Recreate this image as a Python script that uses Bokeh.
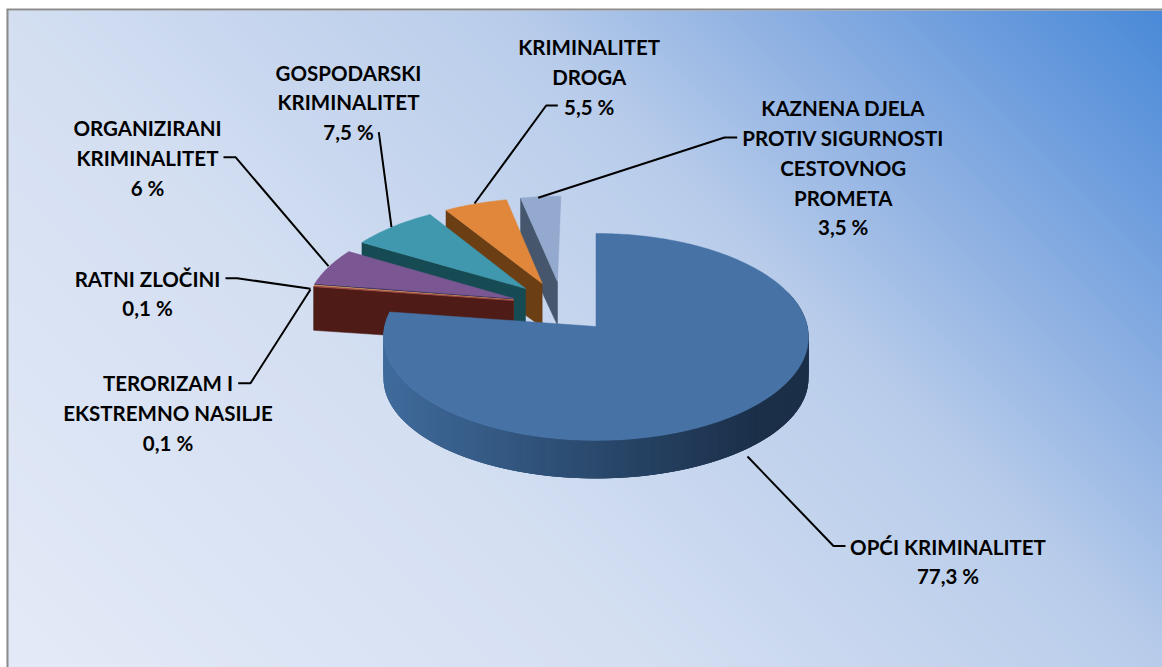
import numpy as np
from bokeh.plotting import figure
from bokeh.embed import file_html
from bokeh.resources import INLINE
from bokeh.core.properties import value

# ---- data
categories = ["OPĆI KRIMINALITET", "TERORIZAM I EKSTREMNO NASILJE", "RATNI ZLOČINI",
              "ORGANIZIRANI KRIMINALITET", "GOSPODARSKI KRIMINALITET",
              "KRIMINALITET DROGA", "KAZNENA DJELA PROTIV SIGURNOSTI CESTOVNOG PROMETA"]
shares = [77.3, 0.1, 0.1, 6.0, 7.5, 5.5, 3.5]
top_colors = ["#4672a6", "#a8504c", "#dca468", "#7a5793", "#3f98ae", "#e0873c", "#93a9ce"]
wall_colors = ["#2c4a6e", "#4e1b16", "#7a5a20", "#3a2858", "#174b54", "#6b3e14", "#46566c"]
slice_tips = [(595.5, 326), (513, 300), (513, 299.5), (513, 298), (525, 288), (541.7, 283), (557, 281)]

label_lines = [["OPĆI KRIMINALITET", "77,3 %"],
               ["TERORIZAM I", "EKSTREMNO NASILJE", "0,1 %"],
               ["RATNI ZLOČINI", "0,1 %"],
               ["ORGANIZIRANI", "KRIMINALITET", "6 %"],
               ["GOSPODARSKI", "KRIMINALITET", "7,5 %"],
               ["KRIMINALITET", "DROGA", "5,5 %"],
               ["KAZNENA DJELA", "PROTIV SIGURNOSTI", "CESTOVNOG", "PROMETA", "3,5 %"]]
label_centers = [947.5, 167.5, 147, 147, 348, 588.7, 842.7]
label_first_baselines = [546, 382.7, 278, 127.7, 72, 46.7, 107.7]
leaders = [[(747, 456), (833, 545.5), (845, 545.5)],
           [(237.7, 382.7), (250, 382.7), (310, 289)],
           [(225, 277.7), (236.7, 277.7), (310, 288.3)],
           [(223, 156.7), (235, 156.7), (328, 265.7)],
           [(378.3, 131.7), (391, 226.7)],
           [(557.3, 105), (545.7, 105), (474, 203)],
           [(736.7, 137), (724, 137), (537.7, 197.3)]]

# ---- layout of the projected pie
CX, CY, RX, RY, K = 595.5, 326.0, 211.4, 102.4, 0.101
X0, Y0 = 0, 0
W, H = 1162, 667
FX, FY = 6, 10


def proj(u, v):
    d = 1 - K * v
    return CX + RX * u / d, CY + RY * v / d


def unproj(x, y):
    t = (y - CY) / RY
    v = t / (1 + K * t)
    return (x - CX) / RX * (1 - K * v), v


def depth(v):
    return 42 - 4 * v


p = figure(width=W, height=H, x_range=(X0, X0 + W), y_range=(Y0 + H, Y0),
           output_backend="svg", toolbar_location=None, min_border=0,
           background_fill_color="white", outline_line_color=None)
p.axis.visible = False
p.grid.visible = False

# ---- gradient background
stops_t = [0.0, 0.36, 0.635, 0.75, 0.88, 1.0]
stops_c = [(228, 235, 248), (212, 223, 242), (185, 205, 235), (150, 182, 228), (110, 158, 222), (72, 137, 216)]
yy, xx = np.mgrid[FY:667, FX:1162]
t = (xx + (667 - yy)) / (1162 + 667)
img = np.zeros(t.shape, dtype=np.uint32)
view = img.view(dtype=np.uint8).reshape((*t.shape, 4))
for c in range(3):
    view[..., c] = np.interp(t, stops_t, [s[c] for s in stops_c])
view[..., 3] = 255
p.image_rgba(image=[img], x=FX, y=FY, dw=1162 - FX, dh=667 - FY)

# ---- frame
p.line([FX + 1, FX + 1], [667, FY - 1], line_color="#8c8c8c", line_width=2)
p.line([FX, 1162], [FY - 1, FY - 1], line_color="#8c8c8c", line_width=2)

# ---- slices, far ones first
cum = np.cumsum([0] + shares)
start = cum[:-1] / 100 * 2 * np.pi
end = cum[1:] / 100 * 2 * np.pi


def ring(a0, a1, ou, ov, n=120):
    a = np.linspace(a0, a1, n)
    return ou + np.sin(a), ov - np.cos(a)


for i in [6, 5, 4, 3, 2, 1]:
    ou, ov = unproj(*slice_tips[i])
    u, v = ring(start[i], end[i], ou, ov, 30)
    # radial wall at the slice's leading edge
    xa, ya = proj(ou, ov)
    xb, yb = proj(u[0], v[0])
    p.patch([xa, xb, xb, xa], [ya, yb, yb + depth(v[0]), ya + depth(ov)],
            fill_color=wall_colors[i], line_color=wall_colors[i], line_width=0.5)
    xs, ys = proj(u, v)
    p.patch([xa, *xs], [ya, *ys], fill_color=top_colors[i], line_color=top_colors[i], line_width=0.5)

# main slice
ou, ov = unproj(*slice_tips[0])
a = np.linspace(np.radians(70), end[0], 161)
ua, va = ou + np.sin(a), ov - np.cos(a)
xs, ys = proj(ua, va)
bottom = ys + depth(va)
wall_left, wall_mid, wall_right = (64, 107, 156), (41, 71, 106), (27, 47, 72)
wx, wy, wc = [], [], []
for j in range(len(a) - 1):
    k2 = min(j + 3, len(a) - 1)
    f = (xs[j] + xs[j + 1]) / 2
    rgb = [int(np.interp(f, [385, 610, 760, 810], [wall_left[k], wall_mid[k], wall_right[k], wall_right[k]])) for k in range(3)]
    wx.append([xs[j], xs[k2], xs[k2], xs[j]])
    wy.append([ys[j], ys[k2], bottom[k2], bottom[j]])
    wc.append("#%02x%02x%02x" % tuple(rgb))
p.patches(wx, wy, fill_color=wc, line_color=None)
u, v = ring(start[0], end[0], ou, ov, 300)
xs, ys = proj(u, v)
p.patch([CX, *xs], [CY, *ys], fill_color=top_colors[0], line_color=top_colors[0], line_width=0.5)

# ---- leader lines and labels
for pts in leaders:
    p.line([q[0] for q in pts], [q[1] for q in pts], line_color="black", line_width=2)

LH = 29.8
for lines, cx, y0 in zip(label_lines, label_centers, label_first_baselines):
    p.text(x=[cx] * len(lines), y=[y0 + LH * k for k in range(len(lines))], text=lines,
           text_font=value("Lato"), text_font_style="bold", text_font_size="20.5px",
           text_align="center", text_baseline="alphabetic", text_color="black")

open("out.html", "w").write(file_html(p, INLINE))
